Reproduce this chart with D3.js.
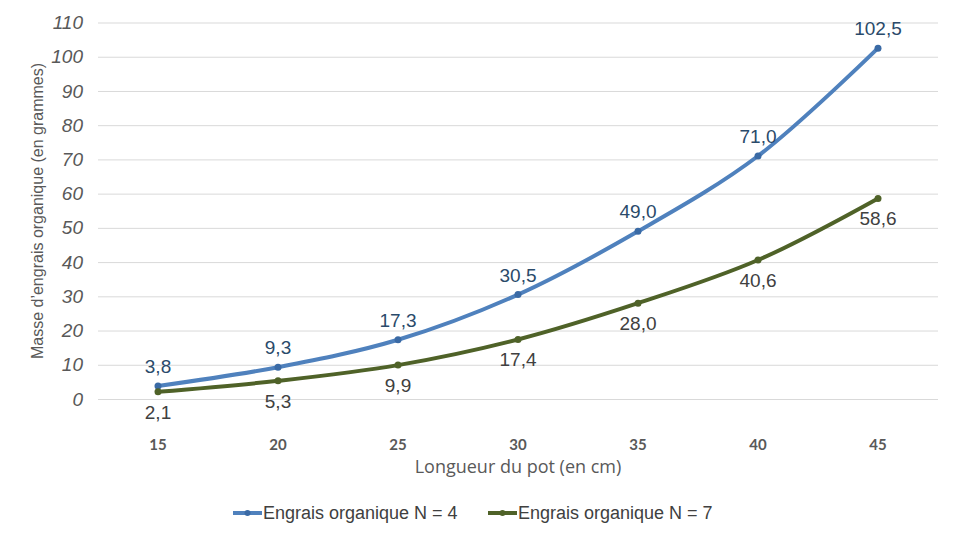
<!DOCTYPE html>
<html><head><meta charset="utf-8">
<script src="https://cdn.jsdelivr.net/npm/d3@7"></script>
<style>body{margin:0;background:#fff}svg{display:block}</style>
</head><body>
<svg id="c" width="960" height="540"></svg>
<script>
const categories = [15, 20, 25, 30, 35, 40, 45];
const seriesN4 = [3.8, 9.3, 17.3, 30.5, 49.0, 71.0, 102.5];
const seriesN7 = [2.1, 5.3, 9.9, 17.4, 28.0, 40.6, 58.6];
const yTicks = [0, 10, 20, 30, 40, 50, 60, 70, 80, 90, 100, 110];
const seriesNames = ["Engrais organique N = 4", "Engrais organique N = 7"];

const svg = d3.select("#c");
const pLeft = 98, pRight = 938, pTop = 22.5, pBottom = 399;
const x = d3.scaleBand().domain(categories).range([pLeft, pRight]);
const xc = d => x(d) + x.bandwidth() / 2;
const y = d3.scaleLinear().domain([0, 110]).range([pBottom, pTop]);
const arial = "'Liberation Sans', Arial, sans-serif";

// grid
const yAxis = d3.axisLeft(y).tickValues(yTicks).tickSize(-(pRight - pLeft)).tickFormat(d3.format("d"));
const gy = svg.append("g").attr("transform", `translate(${pLeft},0)`).call(yAxis);
gy.select(".domain").remove();
gy.selectAll(".tick line").attr("stroke", "#d9d9d9").attr("stroke-width", 1);
gy.selectAll(".tick text").attr("x", -15).attr("fill", "#595959")
  .style("font-family", arial).style("font-style", "italic").style("font-size", "19px");

const xAxis = d3.axisBottom(x).tickSize(0);
const gx = svg.append("g").attr("transform", `translate(0,${pBottom})`).call(xAxis);
gx.select(".domain").remove();
gx.selectAll(".tick text").attr("y", 40).attr("fill", "#595959")
  .style("font-family", "Lato, 'Open Sans', sans-serif").style("font-weight", "bold").style("font-size", "15px");

// axis titles
svg.append("text").attr("x", 518).attr("y", 473).attr("text-anchor", "middle")
  .attr("fill", "#595959").style("font-family", "'Open Sans', Lato, sans-serif").style("font-size", "18px")
  .text("Longueur du pot (en cm)");
svg.append("text").attr("transform", "translate(43,211) rotate(-90)").attr("text-anchor", "middle")
  .attr("fill", "#595959").style("font-family", arial).style("font-size", "16px")
  .text("Masse d’engrais organique (en grammes)");

const line = d3.line().x((d, i) => xc(categories[i])).y(d => y(d)).curve(d3.curveCatmullRom.alpha(0.5));
const series = [
  {vals: seriesN4, color: "#4f81bd", marker: "#3a6aa5", label: "#2a4a6a", dy: -13},
  {vals: seriesN7, color: "#4f6228", marker: "#4f6228", label: "#404040", dy: 27}
];
const fmt = v => v.toFixed(1).replace(".", ",");
series.forEach(s => {
  svg.append("path").datum(s.vals).attr("d", line).attr("fill", "none")
    .attr("stroke", s.color).attr("stroke-width", 4).attr("stroke-linejoin", "round");
  svg.selectAll(null).data(s.vals).enter().append("circle")
    .attr("cx", (d, i) => xc(categories[i])).attr("cy", d => y(d)).attr("r", 3.5)
    .attr("fill", s.marker);
  svg.selectAll(null).data(s.vals).enter().append("text")
    .attr("x", (d, i) => xc(categories[i])).attr("y", d => y(d) + s.dy)
    .attr("text-anchor", "middle").attr("fill", s.label)
    .style("font-family", arial).style("font-size", "19px")
    .text(d => fmt(d));
});

// legend
const legX = [233, 488];
series.forEach((s, i) => {
  const g = svg.append("g");
  g.append("line").attr("x1", legX[i]).attr("x2", legX[i] + 29).attr("y1", 513).attr("y2", 513)
    .attr("stroke", s.color).attr("stroke-width", 4);
  g.append("circle").attr("cx", legX[i] + 14.5).attr("cy", 513).attr("r", 3).attr("fill", s.marker);
  g.append("text").attr("x", legX[i] + 30).attr("y", 519).attr("fill", "#404040")
    .style("font-family", arial).style("font-size", "18px")
    .text(seriesNames[i]);
});
</script>
</body></html>
